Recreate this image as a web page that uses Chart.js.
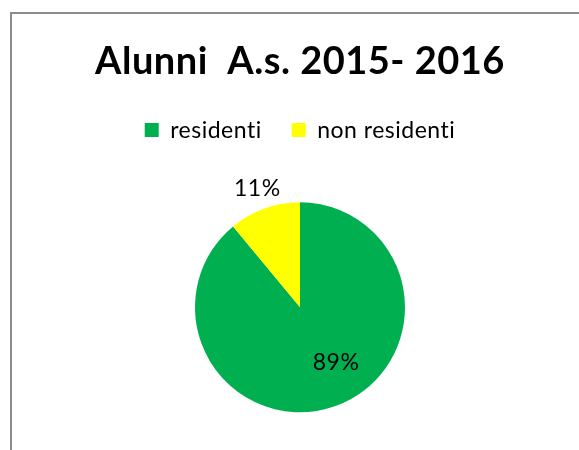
<!DOCTYPE html>
<html>
<head>
<meta charset="utf-8">
<script src="https://cdn.jsdelivr.net/npm/chart.js@4/dist/chart.umd.min.js"></script>
<style>
  html, body { margin: 0; padding: 0; background: #fff; overflow: hidden; }
  #wrap { position: relative; width: 579px; height: 450px; overflow: hidden; }
  #frame {
    position: absolute; left: 10px; top: 12px; right: -10px; bottom: -10px;
    border-left: 2px solid #8c8c8c; border-top: 2px solid #8c8c8c;
  }
  #box { position: absolute; left: 0; top: 0; width: 579px; height: 463px; }
</style>
</head>
<body>
<div id="wrap">
  <div id="frame"></div>
  <div id="box"><canvas id="chart"></canvas></div>
</div>
<script>
  'use strict';

  var categories = ['residenti', 'non residenti'];
  var values     = [89, 11];
  var colors     = ['#00b050', '#ffff00'];
  var chartTitle = 'Alunni  A.s. 2015- 2016';

  // A touch of letter spacing (also switches off the "ti" ligature).
  var spacing = {
    id: 'spacing',
    beforeLayout: function (chart) { chart.ctx.letterSpacing = '0.5px'; },
    beforeDraw:   function (chart) { chart.ctx.letterSpacing = '0.5px'; }
  };

  // Percent labels: inside for the big slice, outside for the small one.
  var pctLabels = {
    id: 'pctLabels',
    afterDatasetsDraw: function (chart, args, opts) {
      var ctx  = chart.ctx;
      var data = chart.data.datasets[0].data;
      var sum  = data.reduce(function (a, b) { return a + b; }, 0);
      ctx.save();
      ctx.font = opts.font;
      ctx.fillStyle = '#000';
      ctx.textAlign = 'center';
      ctx.textBaseline = 'middle';
      chart.getDatasetMeta(0).data.forEach(function (arc, i) {
        var mid = (arc.startAngle + arc.endAngle) / 2;
        var r   = arc.outerRadius * opts.radial[i];
        var x   = arc.x + Math.cos(mid) * r + opts.shift[i][0];
        var y   = arc.y + Math.sin(mid) * r + opts.shift[i][1];
        ctx.fillText(Math.round(data[i] / sum * 100) + '%', x, y);
      });
      ctx.restore();
    }
  };

  new Chart(document.getElementById('chart'), {
    type: 'pie',
    data: {
      labels: categories,
      datasets: [{
        data: values,
        backgroundColor: colors,
        borderWidth: 0,
        radius: 105
      }]
    },
    options: {
      responsive: true,
      maintainAspectRatio: false,
      animation: false,
      layout: { padding: { left: 21, right: 0, top: 0, bottom: 0 } },
      plugins: {
        title: {
          display: true,
          text: chartTitle,
          color: '#000',
          font: { family: 'Lato', size: 38, weight: 'bold' },
          padding: { top: 39, bottom: 4 }
        },
        legend: {
          position: 'top',
          labels: {
            color: '#000',
            font: { family: 'Lato', size: 23 },
            boxWidth: 14,
            boxHeight: 14,
            padding: 30
          }
        },
        tooltip: { enabled: false },
        pctLabels: {
          font: '23px Lato',
          radial: [0.62, 1.2],
          shift: [[14, -6], [0, 0]]
        }
      }
    },
    plugins: [spacing, pctLabels]
  });
</script>
</body>
</html>
